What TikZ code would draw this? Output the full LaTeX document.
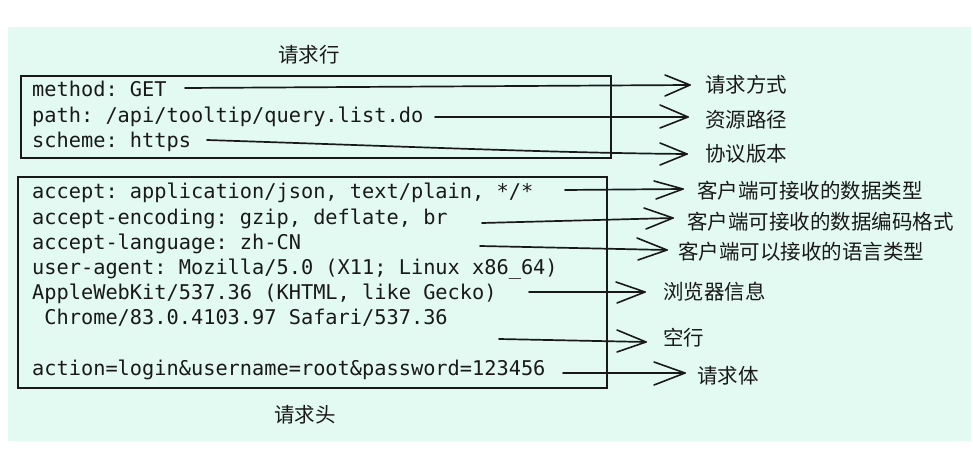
\documentclass[tikz,border=0pt]{standalone}
\usepackage{fontspec}
\setmonofont{DejaVu Sans Mono}
\newfontfamily\cjk{Noto Sans CJK SC}
\definecolor{bgmint}{RGB}{227,250,243}
\definecolor{ink}{RGB}{25,25,25}
\begin{document}
\begin{tikzpicture}[x=1pt,y=-1pt,
  code/.style={anchor=base west,inner sep=0pt,text=ink,font=\ttfamily\fontsize{20.3}{25}\selectfont},
  lbl/.style={anchor=west,inner sep=0pt,text=ink,font=\cjk\fontsize{20.5}{24}\selectfont},
  ttl/.style={anchor=center,inner sep=0pt,text=ink,font=\cjk\fontsize{20.5}{24}\selectfont},
  frame/.style={draw=ink,line width=1.5pt},
  conn/.style={draw=ink,line width=1.7pt,line cap=round,line join=round},
  barb/.style={draw=ink,line width=1.6pt,line cap=round,line join=round}]
\useasboundingbox (0,0) rectangle (973,465);
\fill[bgmint] (8,27) rectangle (971,441);

% boxes
\draw[frame] (21,76) rectangle (611,158);
\draw[frame] (18,177) rectangle (607,388);

% titles
\node[ttl] (tline) at (309,55) {请求行};
\node[ttl] (thead) at (305,415) {请求头};

% request line text
\node[code] (m) at (32,97) {method: GET};
\node[code] (p) at (32,123) {path: /api/tooltip/query.list.do};
\node[code] (s) at (32,148) {scheme: https};

% header text
\node[code] (h1) at (32,198) {accept: application/json, text/plain, */*};
\node[code] (h2) at (32,224) {accept-encoding: gzip, deflate, br};
\node[code] (h3) at (32,249) {accept-language: zh-CN};
\node[code] (h4) at (32,274) {user-agent: Mozilla/5.0 (X11; Linux x86\_64)};
\node[code] (h5) at (32,299) {AppleWebKit/537.36 (KHTML, like Gecko)};
\node[code] (h6) at (32,324) {\ Chrome/83.0.4103.97 Safari/537.36};
\node[code] (h7) at (32,375) {action=login\&username=root\&password=123456};

% labels
\node[lbl] (l1) at (705,85) {请求方式};
\node[lbl] (l2) at (705,120) {资源路径};
\node[lbl] (l3) at (705,154) {协议版本};
\node[lbl] (l4) at (697,191) {客户端可接收的数据类型};
\node[lbl] (l5) at (687,222) {客户端可接收的数据编码格式};
\node[lbl] (l6) at (678,252) {客户端可以接收的语言类型};
\node[lbl] (l7) at (663,292) {浏览器信息};
\node[lbl] (l8) at (663,338) {空行};
\node[lbl] (l9) at (697,376) {请求体};

% connector ends
\coordinate (s1) at (185,88);  \coordinate (t1) at (690,85);
\coordinate (s2) at (435,117); \coordinate (t2) at (688,117);
\coordinate (s3) at (207,140); \coordinate (t3) at (687,154);
\coordinate (s4) at (565,190); \coordinate (t4) at (683,189);
\coordinate (s5) at (482,223); \coordinate (t5) at (673,218);
\coordinate (s6) at (480,246); \coordinate (t6) at (667,250);
\coordinate (s7) at (529,292); \coordinate (t7) at (645,292);
\coordinate (s8) at (499,339); \coordinate (t8) at (646,342);
\coordinate (s9) at (563,373); \coordinate (t9) at (685,373);

% connectors
\draw[conn] (s1) -- (t1);
\draw[conn] (s2) -- (t2);
\draw[conn] (s3) .. controls (420,147) and (560,153) .. (t3);
\draw[conn] (s4) -- (t4);
\draw[conn] (s5) -- (t5);
\draw[conn] (s6) -- (t6);
\draw[conn] (s7) -- (t7);
\draw[conn] (s8) -- (t8);
\draw[conn] (s9) -- (t9);

% barbs
\draw[barb] ([shift={(-25,-10)}]t1) -- (t1) -- ([shift={(-25,11)}]t1);
\draw[barb] ([shift={(-28,-12)}]t2) -- (t2) -- ([shift={(-28,11)}]t2);
\draw[barb] ([shift={(-27,-11)}]t3) -- (t3) -- ([shift={(-27,11)}]t3);
\draw[barb] ([shift={(-29,-8)}]t4) -- (t4) -- ([shift={(-27,10)}]t4);
\draw[barb] ([shift={(-29,-10)}]t5) -- (t5) -- ([shift={(-27,11)}]t5);
\draw[barb] ([shift={(-30,-12)}]t6) -- (t6) -- ([shift={(-29,10)}]t6);
\draw[barb] ([shift={(-29,-10)}]t7) -- (t7) -- ([shift={(-28,11)}]t7);
\draw[barb] ([shift={(-29,-12)}]t8) -- (t8) -- ([shift={(-29,10)}]t8);
\draw[barb] ([shift={(-31,-11)}]t9) -- (t9) -- ([shift={(-31,12)}]t9);
\end{tikzpicture}
\end{document}
